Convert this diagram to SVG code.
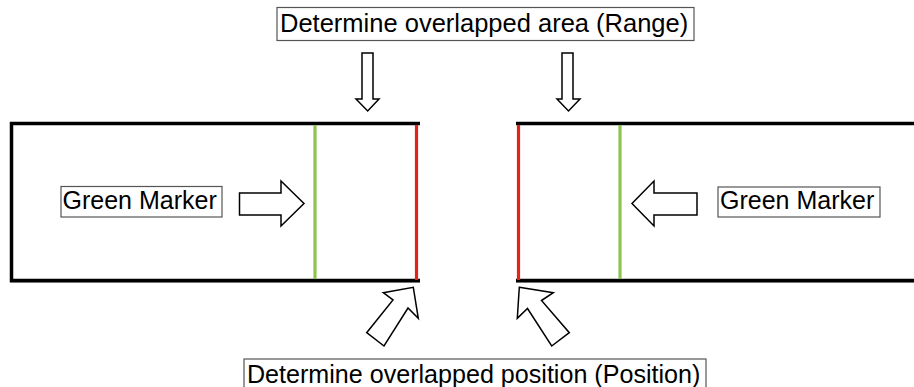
<svg xmlns="http://www.w3.org/2000/svg" width="914" height="387" viewBox="0 0 914 387">
<style>
.lbl{fill:#fff;stroke:#555;stroke-width:1.2}
.txt{font-family:"Liberation Sans",Arial,sans-serif;font-size:25.5px;fill:#000}
.wall{stroke:#000;stroke-width:3.5;fill:none}
.shadow{stroke:#999;stroke-width:1;fill:none}
.red{stroke:#e2231a;stroke-width:3.2}
.green{stroke:#8dc34f;stroke-width:3.2}
.arrow{fill:#fff;stroke:#000;stroke-width:1.5;stroke-linejoin:miter}
</style>
<rect width="914" height="387" fill="#fff"/>
<g id="left-bar">
  <line class="shadow" x1="10" y1="282.5" x2="420" y2="282.5"/>
  <path class="wall" d="M420 123.5 H11.5 V280.5 H420"/>
  <line class="green" x1="315" y1="125" x2="315" y2="279"/>
  <line class="red" x1="416.5" y1="125" x2="416.5" y2="280"/>
</g>
<g id="right-bar">
  <line class="shadow" x1="516" y1="282.5" x2="914" y2="282.5"/>
  <line class="wall" x1="516" y1="123.5" x2="914" y2="123.5"/>
  <line class="wall" x1="516" y1="280.5" x2="914" y2="280.5"/>
  <line class="red" x1="518.5" y1="125" x2="518.5" y2="280"/>
  <line class="green" x1="620" y1="125" x2="620" y2="279"/>
</g>
<g id="range-label">
  <rect class="lbl" x="277" y="7.5" width="417" height="33"/>
  <text class="txt" x="280" y="32">Determine overlapped area (Range)</text>
</g>
<g id="position-label">
  <rect class="lbl" x="244" y="359" width="462" height="34"/>
  <text class="txt" x="247" y="383" style="font-size:25.1px">Determine overlapped position (Position)</text>
</g>
<g id="green-marker-left">
  <rect class="lbl" x="61" y="186.5" width="161" height="30.5"/>
  <text class="txt" x="62.5" y="209" style="font-size:25px">Green Marker</text>
</g>
<g id="green-marker-right">
  <rect class="lbl" x="718" y="187" width="162" height="30"/>
  <text class="txt" x="720" y="209" style="font-size:25px">Green Marker</text>
</g>
<g id="connectors">
  <path class="arrow" d="M362 53 H373 V99 H379 L367.7 111 L356 99 H362 Z"/>
  <path class="arrow" d="M562 53 H573 V99 H580 L568.5 111 L557 99 H562 Z"/>
  <path class="arrow" d="M239.5 193 H281 V181 L304 203.5 L281 226 V215 H239.5 Z"/>
  <path class="arrow" d="M697 193 H654 V181 L632 203.5 L654 226 V215 H697 Z"/>
  <path class="arrow" d="M413.3 287.3 L418.3 318.3 L408 308 L384 346 L366.7 332.7 L393 300 L383.3 292.7 Z"/>
  <path class="arrow" d="M519.3 287.3 L553.3 292.7 L541.5 300.5 L569.3 332.7 L551.7 346 L527.5 308.5 L517.3 318.3 Z"/>
</g>
</svg>
